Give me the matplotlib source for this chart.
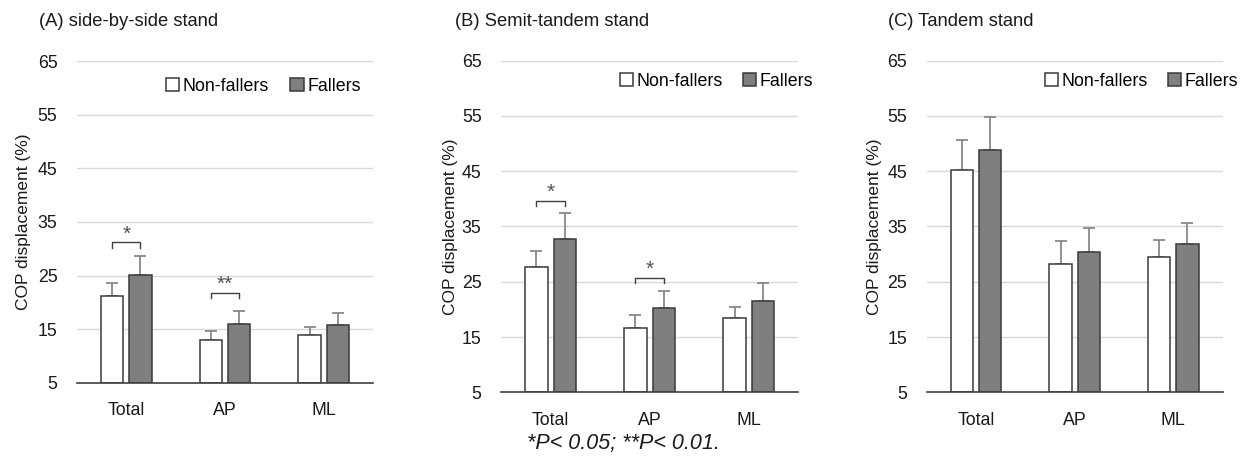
import matplotlib
matplotlib.use("Agg")
import matplotlib.pyplot as plt
import numpy as np

plt.rcParams['font.family'] = ['Liberation Sans', 'DejaVu Sans']

categories = ["Total", "AP", "ML"]
series = ["Non-fallers", "Fallers"]
titles = ["(A) side-by-side stand", "(B) Semit-tandem stand", "(C) Tandem stand"]

# means
a_nonfallers = [21.2, 13.0, 13.9]
a_fallers = [25.1, 16.0, 15.8]
b_nonfallers = [27.6, 16.7, 18.5]
b_fallers = [32.7, 20.2, 21.5]
c_nonfallers = [45.2, 28.3, 29.4]
c_fallers = [48.9, 30.4, 31.9]
# upper error (SD)
a_nonfallers_err = [2.4, 1.7, 1.5]
a_fallers_err = [3.5, 2.4, 2.2]
b_nonfallers_err = [2.9, 2.2, 1.9]
b_fallers_err = [4.7, 3.1, 3.2]
c_nonfallers_err = [5.4, 4.1, 3.1]
c_fallers_err = [6.0, 4.4, 3.8]

# significance brackets: (category index, bracket level, label)
a_sig = [(0, 31.2, "*"), (1, 21.8, "**")]
b_sig = [(0, 39.7, "*"), (1, 25.7, "*")]
c_sig = []

yticks = [5, 15, 25, 35, 45, 55, 65]
footnote = "*P< 0.05; **P< 0.01."

fig = plt.figure(figsize=(12.41, 4.59), dpi=100)
axes_pos = [
    [0.0620, 0.1656, 0.2386, 0.7015],
    [0.4037, 0.1453, 0.2396, 0.7225],
    [0.7467, 0.1453, 0.2385, 0.7225],
]
legend_pos = [(0.30, 0.922), (0.40, 0.9385), (0.40, 0.9385)]
col_space = [1.2, 1.1, 1.1]
title_x = [39, 455, 888]
ylabel_x = [24, 451, 874]

data = [
    (a_nonfallers, a_fallers, a_nonfallers_err, a_fallers_err, a_sig),
    (b_nonfallers, b_fallers, b_nonfallers_err, b_fallers_err, b_sig),
    (c_nonfallers, c_fallers, c_nonfallers_err, c_fallers_err, c_sig),
]

W, H = 1241, 459
x = np.arange(len(categories))
bw = 0.225
off = 0.143
edge = '#3a3a3a'
errc = '#7f7f7f'

for i, (nf, f, nfe, fe, sig) in enumerate(data):
    ax = fig.add_axes(axes_pos[i])
    ax.set_ylim(5, 65)
    ax.set_xlim(-0.5, 2.5)
    ax.set_yticks(yticks)
    ax.yaxis.grid(True, color='#d9d9d9', linewidth=1)
    ax.set_axisbelow(True)
    for s in ['top', 'right', 'left']:
        ax.spines[s].set_visible(False)
    ax.spines['bottom'].set_color('#404040')
    ax.spines['bottom'].set_linewidth(1.2)
    ax.tick_params(axis='both', length=0, labelsize=12.8, colors='#1a1a1a')
    ax.tick_params(axis='y', pad=14)
    ax.tick_params(axis='x', pad=14)
    ax.bar(x - off, np.array(nf) - 5, bw, bottom=5, color='white', edgecolor=edge,
           linewidth=1.1, label=series[0], zorder=2)
    ax.bar(x + off, np.array(f) - 5, bw, bottom=5, color='#7f7f7f', edgecolor=edge,
           linewidth=1.1, label=series[1], zorder=2)
    ax.errorbar(x - off, nf, yerr=[np.zeros(3), nfe], fmt='none', ecolor=errc,
                elinewidth=1.2, capsize=4, capthick=1.2, zorder=1)
    ax.errorbar(x + off, f, yerr=[np.zeros(3), fe], fmt='none', ecolor=errc,
                elinewidth=1.2, capsize=4, capthick=1.2, zorder=1)
    ax.set_xticks(x)
    ax.set_xticklabels(categories)
    for ci, lvl, lab in sig:
        x0, x1 = ci - off, ci + off
        ax.plot([x0, x0, x1, x1], [lvl - 1.0, lvl, lvl, lvl - 1.0], color='#404040',
                linewidth=1.0, zorder=3)
        ax.text(ci, lvl - 0.2, lab, ha='center', va='bottom', fontsize=15,
                color='#505050', fontweight='light')
    leg = ax.legend(loc='center left', bbox_to_anchor=legend_pos[i], ncol=2,
                    frameon=False, fontsize=12.8, handlelength=0.75, handleheight=0.75,
                    handletextpad=0.2, columnspacing=col_space[i], borderaxespad=0,
                    borderpad=0)
    fig.text(title_x[i] / W, 1 - 22 / H, titles[i], ha='left', va='center',
             fontsize=13.2, color='#1a1a1a')
    fig.text(ylabel_x[i] / W, (axes_pos[i][1] + axes_pos[i][3] / 2), "COP displacement (%)",
             rotation=90, ha='center', va='center', fontsize=12.5, color='#1a1a1a')

fig.text(623 / W, 1 - 443 / H, footnote, ha='center', va='center', fontsize=15.5,
         style='italic', color='#1a1a1a')

fig.savefig("out.png", dpi=100)
